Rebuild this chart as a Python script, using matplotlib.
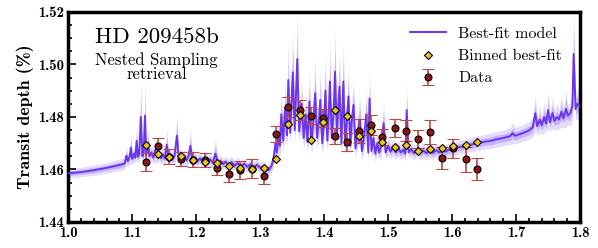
#!/usr/bin/env python3
import matplotlib
matplotlib.use('Agg')
import matplotlib.pyplot as plt
import numpy as np

# binned data (wavelength in micron, transit depth in %)
wl = [1.121, 1.140, 1.158, 1.177, 1.195, 1.214, 1.232, 1.251, 1.269, 1.288,
      1.306, 1.325, 1.343, 1.362, 1.380, 1.399, 1.417, 1.436, 1.454, 1.473,
      1.491, 1.510, 1.528, 1.547, 1.565, 1.584, 1.602, 1.621, 1.639]
depth = [1.4629, 1.4688, 1.4648, 1.4639, 1.4637, 1.4635, 1.4604, 1.4582, 1.4599, 1.4603,
         1.4576, 1.4736, 1.4837, 1.4828, 1.4805, 1.4796, 1.4727, 1.4705, 1.4746, 1.4770,
         1.4723, 1.4758, 1.4748, 1.4717, 1.4743, 1.4644, 1.4680, 1.4639, 1.4603]
err = [0.0034, 0.0030, 0.0028, 0.0027, 0.0028, 0.0027, 0.0027, 0.0030, 0.0034, 0.0036,
       0.0033, 0.0031, 0.0038, 0.0038, 0.0031, 0.0034, 0.0031, 0.0033, 0.0045, 0.0038,
       0.0030, 0.0034, 0.0041, 0.0034, 0.0047, 0.0041, 0.0036, 0.0048, 0.0042]
binned = [1.4695, 1.4658, 1.4648, 1.4653, 1.4635, 1.4628, 1.4624, 1.4612, 1.4605, 1.4603,
          1.4604, 1.4640, 1.4774, 1.4806, 1.4712, 1.4781, 1.4826, 1.4803, 1.4727, 1.4746,
          1.4705, 1.4684, 1.4695, 1.4671, 1.4679, 1.4682, 1.4688, 1.4695, 1.4705]

# best-fit model spectrum
model_wl = [1.000, 1.020, 1.040, 1.060, 1.080, 1.088,
            1.090, 1.091, 1.093, 1.096, 1.098, 1.100, 1.103, 1.105, 1.107, 1.109,
            1.111, 1.1135, 1.116, 1.118, 1.120, 1.122, 1.125, 1.127, 1.130, 1.133,
            1.136, 1.139, 1.142, 1.145, 1.148, 1.151, 1.154, 1.157, 1.160, 1.163,
            1.166, 1.170, 1.173, 1.176, 1.179, 1.182, 1.185, 1.188, 1.191, 1.194,
            1.198, 1.202, 1.206, 1.210, 1.214, 1.218, 1.222, 1.226, 1.230, 1.234,
            1.238, 1.242, 1.246, 1.250, 1.255, 1.260, 1.265, 1.270, 1.275, 1.280,
            1.285, 1.290, 1.295, 1.300, 1.305, 1.310, 1.314, 1.318,
            1.321, 1.324, 1.326, 1.328, 1.331, 1.333, 1.336, 1.339, 1.342, 1.344,
            1.347, 1.351, 1.354, 1.358, 1.361, 1.365, 1.368, 1.371, 1.374, 1.377,
            1.380, 1.383, 1.386, 1.389, 1.392, 1.394, 1.397, 1.400, 1.402, 1.405,
            1.407, 1.409, 1.412, 1.415, 1.417, 1.420, 1.422, 1.424, 1.427, 1.430,
            1.433, 1.436, 1.438, 1.441, 1.443, 1.446, 1.449, 1.452, 1.456, 1.459,
            1.462, 1.466, 1.469, 1.471, 1.474, 1.477, 1.480, 1.483, 1.486, 1.489,
            1.493, 1.496, 1.500, 1.504, 1.508, 1.512, 1.516, 1.520, 1.524, 1.527,
            1.529, 1.532, 1.536, 1.540, 1.545, 1.550, 1.555, 1.560, 1.565, 1.570,
            1.575, 1.580, 1.585, 1.590, 1.595, 1.600,
            1.610, 1.620, 1.630, 1.640, 1.650, 1.660, 1.670, 1.680, 1.690, 1.695,
            1.698, 1.710, 1.720, 1.726, 1.730, 1.733, 1.737, 1.740, 1.744, 1.747,
            1.750, 1.753, 1.757, 1.760, 1.764, 1.767, 1.771, 1.774, 1.778, 1.781,
            1.785, 1.788, 1.790, 1.793, 1.796, 1.800]
model_depth = [1.4585, 1.4590, 1.4597, 1.4606, 1.4617, 1.4622,
               1.4640, 1.4652, 1.4632, 1.4648, 1.4683, 1.4640, 1.4660, 1.4645, 1.4709, 1.4648,
               1.4660, 1.4800, 1.4650, 1.4665, 1.4805, 1.4655, 1.4700, 1.4650, 1.4665, 1.4645,
               1.4675, 1.4648, 1.4660, 1.4643, 1.4655, 1.4642, 1.4694, 1.4645, 1.4655, 1.4640,
               1.4650, 1.4728, 1.4640, 1.4652, 1.4638, 1.4648, 1.4636, 1.4650, 1.4690, 1.4635,
               1.4645, 1.4632, 1.4642, 1.4630, 1.4645, 1.4628, 1.4638, 1.4625, 1.4660, 1.4624,
               1.4632, 1.4620, 1.4630, 1.4618, 1.4628, 1.4615, 1.4624, 1.4612, 1.4622, 1.4610,
               1.4620, 1.4608, 1.4618, 1.4606, 1.4610, 1.4596, 1.4600, 1.4615,
               1.4645, 1.4700, 1.4665, 1.4720, 1.4690, 1.4810, 1.4710, 1.4835, 1.4730, 1.4940,
               1.4740, 1.4970, 1.4750, 1.5020, 1.4745, 1.4850, 1.4720, 1.4810, 1.4705, 1.4860,
               1.4700, 1.4780, 1.4890, 1.4720, 1.4790, 1.4865, 1.4700, 1.4790, 1.4900, 1.4710,
               1.4800, 1.4935, 1.4720, 1.4830, 1.4972, 1.4730, 1.4840, 1.4915, 1.4700, 1.4935,
               1.4690, 1.4800, 1.4878, 1.4690, 1.4780, 1.4846, 1.4680, 1.4740, 1.4790, 1.4670,
               1.4720, 1.4810, 1.4665, 1.4870, 1.4670, 1.4720, 1.4660, 1.4700, 1.4665, 1.4690,
               1.4776, 1.4665, 1.4690, 1.4668, 1.4685, 1.4665, 1.4680, 1.4665, 1.4675, 1.4660,
               1.4826, 1.4665, 1.4678, 1.4662, 1.4675, 1.4662, 1.4672, 1.4662, 1.4672, 1.4663,
               1.4673, 1.4665, 1.4672, 1.4668, 1.4676, 1.4675,
               1.4684, 1.4690, 1.4695, 1.4700, 1.4705, 1.4709, 1.4715, 1.4720, 1.4726, 1.4738,
               1.4728, 1.4738, 1.4748, 1.4760, 1.4814, 1.4765, 1.4790, 1.4768, 1.4800, 1.4775,
               1.4826, 1.4780, 1.4815, 1.4785, 1.4800, 1.4790, 1.4820, 1.4795, 1.4830, 1.4805,
               1.4815, 1.4840, 1.5040, 1.4830, 1.4850, 1.4840]
# 1-sigma spread of the model
model_spread = [0.0009, 0.0009, 0.0010, 0.0010, 0.0011, 0.0011,
                0.0012, 0.0020, 0.0012, 0.0015, 0.0030, 0.0012, 0.0015, 0.0012, 0.0035, 0.0012,
                0.0015, 0.0070, 0.0012, 0.0015, 0.0070, 0.0012, 0.0030, 0.0012, 0.0015, 0.0012,
                0.0025, 0.0012, 0.0015, 0.0012, 0.0015, 0.0012, 0.0030, 0.0012, 0.0015, 0.0012,
                0.0015, 0.0040, 0.0012, 0.0015, 0.0012, 0.0015, 0.0012, 0.0015, 0.0030, 0.0012,
                0.0012, 0.0011, 0.0012, 0.0011, 0.0015, 0.0011, 0.0012, 0.0011, 0.0030, 0.0011,
                0.0011, 0.0010, 0.0011, 0.0010, 0.0011, 0.0010, 0.0011, 0.0010, 0.0011, 0.0010,
                0.0011, 0.0010, 0.0011, 0.0010, 0.0011, 0.0010, 0.0011, 0.0012,
                0.0015, 0.0030, 0.0020, 0.0035, 0.0020, 0.0050, 0.0020, 0.0055, 0.0020, 0.0080,
                0.0020, 0.0080, 0.0020, 0.0090, 0.0020, 0.0050, 0.0020, 0.0045, 0.0020, 0.0060,
                0.0020, 0.0040, 0.0070, 0.0020, 0.0040, 0.0060, 0.0020, 0.0040, 0.0070, 0.0020,
                0.0040, 0.0080, 0.0020, 0.0050, 0.0085, 0.0020, 0.0050, 0.0070, 0.0020, 0.0080,
                0.0020, 0.0040, 0.0060, 0.0020, 0.0035, 0.0050, 0.0018, 0.0030, 0.0045, 0.0018,
                0.0025, 0.0045, 0.0016, 0.0055, 0.0016, 0.0025, 0.0016, 0.0020, 0.0015, 0.0020,
                0.0040, 0.0015, 0.0018, 0.0014, 0.0016, 0.0014, 0.0015, 0.0014, 0.0015, 0.0013,
                0.0050, 0.0013, 0.0014, 0.0013, 0.0014, 0.0013, 0.0014, 0.0013, 0.0014, 0.0013,
                0.0013, 0.0013, 0.0013, 0.0013, 0.0013, 0.0013,
                0.0013, 0.0013, 0.0014, 0.0014, 0.0014, 0.0015, 0.0015, 0.0015, 0.0016, 0.0020,
                0.0016, 0.0016, 0.0017, 0.0018, 0.0035, 0.0018, 0.0025, 0.0018, 0.0028, 0.0018,
                0.0035, 0.0018, 0.0030, 0.0018, 0.0025, 0.0018, 0.0030, 0.0018, 0.0035, 0.0018,
                0.0025, 0.0030, 0.0080, 0.0020, 0.0030, 0.0025]

xticks = [1.0, 1.1, 1.2, 1.3, 1.4, 1.5, 1.6, 1.7, 1.8]
yticks = [1.44, 1.46, 1.48, 1.50, 1.52]


def main():
    plt.rcParams['font.family'] = 'serif'
    plt.rcParams['font.serif'] = ['cmr10', 'DejaVu Serif']
    plt.rcParams['mathtext.fontset'] = 'cm'

    fig = plt.figure(figsize=(5.98, 2.48), dpi=100)
    ax = fig.add_axes([0.114, 0.105, 0.856, 0.847])

    mw = np.array(model_wl)
    md = np.array(model_depth)
    ms = np.array(model_spread)

    'model bands and line'
    ax.fill_between(mw, md - 2 * ms, md + 2 * ms, color='#e4dcfb', lw=0, zorder=1)
    ax.fill_between(mw, md - ms, md + ms, color='#c4b3f6', lw=0, zorder=2)
    ax.plot(mw, md, color='#6a35ee', lw=1.4, zorder=3, label='Best-fit model')

    'data and binned model'
    ax.errorbar(wl, depth, yerr=err, fmt='o', color='#8a1515', mec='black', mew=0.8,
                ms=5, ecolor='#b84a47', elinewidth=1.2, capsize=4.5, capthick=1.2,
                zorder=5, label='Data')
    ax.plot(wl, binned, 'D', color='#f2c31a', mec='black', mew=0.8, ms=4.2,
            zorder=6, label='Binned best-fit')

    ax.set_xlim(1.0, 1.8)
    ax.set_ylim(1.44, 1.52)
    ax.set_xticks(xticks)
    ax.set_yticks(yticks)
    ax.set_xticklabels(['%.1f' % v for v in xticks], family='cmb10', fontsize=10.5)
    ax.set_yticklabels(['%.2f' % v for v in yticks], family='cmb10', fontsize=10.5)
    ax.set_xticks(np.arange(1.0, 1.8001, 0.02), minor=True)
    ax.set_yticks(np.arange(1.44, 1.5201, 0.005), minor=True)
    ax.tick_params(which='both', direction='in', top=False, right=False, width=1.2)
    ax.tick_params(which='major', length=6, pad=3)
    ax.tick_params(which='minor', length=3)
    for s in ax.spines.values():
        s.set_linewidth(2.5)

    ax.set_ylabel('Transit depth (%)', family='cmb10', fontsize=13, labelpad=3)

    ax.text(1.138, 1.5105, 'HD 209458b', ha='center', va='center', fontsize=16.5)
    ax.text(1.138, 1.4990, 'Nested Sampling\nretrieval', ha='center', va='center',
            fontsize=12, linespacing=0.9)

    h, l = ax.get_legend_handles_labels()
    order = [l.index('Best-fit model'), l.index('Binned best-fit'), l.index('Data')]
    ax.legend([h[i] for i in order], [l[i] for i in order], loc='upper right',
              frameon=False, fontsize=11.5, handlelength=2.2, borderaxespad=0.4,
              labelspacing=0.5, bbox_to_anchor=(0.99, 0.99))

    plt.savefig('out.png', dpi=100)


if __name__ == '__main__':
    main()
